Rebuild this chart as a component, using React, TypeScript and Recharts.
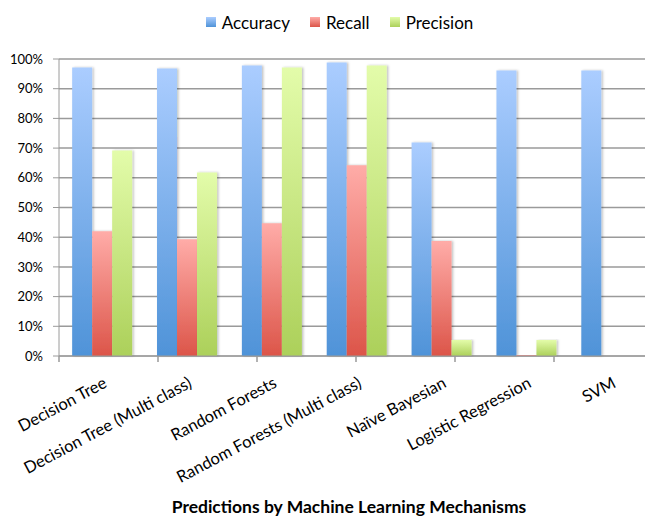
import React from "react"
import {
  BarChart,
  Bar,
  XAxis,
  YAxis,
  CartesianGrid,
  Legend,
  Label,
} from "recharts"

const categories = [
  "Decision Tree",
  "Decision Tree (Multi class)",
  "Random Forests",
  "Random Forests (Multi class)",
  "Naïve Bayesian",
  "Logistic Regression",
  "SVM",
]
const accuracy = [97.1, 96.8, 97.8, 98.8, 71.9, 96.1, 96.1]
const recall = [42.0, 39.3, 44.7, 64.2, 38.7, 0.3, 0]
const precision = [69.2, 61.8, 97.1, 97.8, 5.4, 5.4, 0]
const yTicks = [0, 10, 20, 30, 40, 50, 60, 70, 80, 90, 100]
const edgeTicks = [0, 1, 2, 3, 4, 5, 6, 7]

const series = [
  { key: "accuracy", name: "Accuracy", top: "#abcdff", bottom: "#4f93d8" },
  { key: "recall", name: "Recall", top: "#ffaca8", bottom: "#dc5549" },
  { key: "precision", name: "Precision", top: "#e3fcaa", bottom: "#acd05a" },
]

const data = categories.map((name, i) => ({
  name,
  accuracy: accuracy[i],
  recall: recall[i],
  precision: precision[i],
}))

const FONT = "Lato, 'Open Sans', sans-serif"

function XTick({ x, y, payload }: any) {
  const tx = x + 1
  const ty = y + 11
  return (
    <text
      x={tx}
      y={ty}
      dy="0.72em"
      textAnchor="end"
      transform={`rotate(-28 ${tx} ${ty})`}
      fontSize={16.5}
      fontFamily={FONT}
      fill="#000"
    >
      {payload.value}
    </text>
  )
}

function LegendBox() {
  return (
    <div
      style={{
        display: "flex",
        justifyContent: "center",
        alignItems: "center",
        fontFamily: FONT,
        fontSize: 17,
        color: "#000",
        height: 28,
        paddingLeft: 26,
      }}
    >
      {series.map((s) => (
        <div key={s.key} style={{ display: "flex", alignItems: "center", margin: "0 10px" }}>
          <span
            style={{
              width: 10,
              height: 10,
              marginRight: 6,
              background: `linear-gradient(${s.top}, ${s.bottom})`,
            }}
          />
          <span>{s.name}</span>
        </div>
      ))}
    </div>
  )
}

export default function App() {
  return (
    <div
      style={{
        position: "absolute",
        left: 0,
        top: 0,
        width: 645,
        height: 519,
        overflow: "hidden",
        background: "#fff",
      }}
    >
      <BarChart
        width={660}
        height={519}
        data={data}
        margin={{ top: 31, right: 7, bottom: 0, left: 0 }}
        barCategoryGap="15.5%"
        barGap={0}
      >
        <defs>
          {series.map((s) => (
            <linearGradient key={s.key} id={`g-${s.key}`} x1="0" y1="0" x2="0" y2="1">
              <stop offset="0%" stopColor={s.top} />
              <stop offset="100%" stopColor={s.bottom} />
            </linearGradient>
          ))}
          <filter id="shadow" x="-20%" y="-5%" width="140%" height="110%">
            <feDropShadow dx="1.5" dy="0" stdDeviation="1" floodColor="#000" floodOpacity="0.25" />
          </filter>
        </defs>
        <CartesianGrid xAxisId="b" vertical={false} stroke="#9a9a9a" strokeWidth={1.5} />
        <Legend verticalAlign="top" content={() => <LegendBox />} wrapperStyle={{ top: 8 }} />
        <XAxis
          xAxisId="a"
          type="number"
          domain={[0, 7]}
          ticks={edgeTicks}
          tick={() => <g />}
          height={1}
          stroke="#9a9a9a"
          tickLine={{ stroke: "#9a9a9a", strokeWidth: 1.5 }}
          tickSize={6}
          allowDataOverflow
        />
        <XAxis
          xAxisId="b"
          dataKey="name"
          interval={0}
          axisLine={false}
          tickLine={false}
          tick={<XTick />}
          height={162}
        >
          <Label
            value="Predictions by Machine Learning Mechanisms"
            position="insideBottom"
            offset={6}
            dx={-7}
            style={{ fontFamily: FONT, fontSize: 17.5, fontWeight: 700, fill: "#000" }}
          />
        </XAxis>
        <YAxis
          width={59}
          domain={[0, 100]}
          ticks={yTicks}
          tickFormatter={(v) => `${v}%`}
          stroke="#9a9a9a"
          tickSize={6}
          tickMargin={10}
          tick={{ fill: "#000", fontSize: 13, fontFamily: FONT }}
        />
        {series.map((s) => (
          <Bar
            key={s.key}
            xAxisId="b"
            dataKey={s.key}
            name={s.name}
            fill={`url(#g-${s.key})`}
            filter="url(#shadow)"
            isAnimationActive={false}
          />
        ))}
      </BarChart>
    </div>
  )
}
